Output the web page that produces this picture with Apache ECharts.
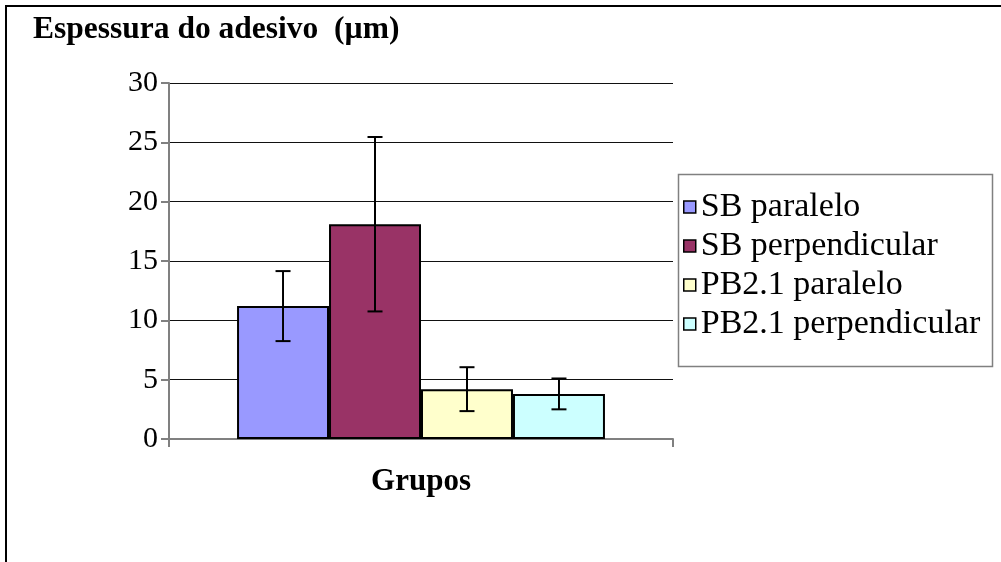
<!DOCTYPE html>
<html><head><meta charset="utf-8">
<script src="https://cdn.jsdelivr.net/npm/echarts@6/dist/echarts.min.js"></script>
<style>html,body{margin:0;padding:0;background:#fff}#c{width:1001px;height:562px}</style>
</head><body><div id="c"></div>
<script>
var categories = ['Grupos'];
var seriesNames = ['SB paralelo', 'SB perpendicular', 'PB2.1 paralelo', 'PB2.1 perpendicular'];
var sbParalelo = [11.2];
var sbPerpendicular = [18.1];
var pbParalelo = [4.2];
var pbPerpendicular = [3.8];
var errSbParalelo = [2.95];
var errSbPerpendicular = [7.35];
var errPbParalelo = [1.85];
var errPbPerpendicular = [1.3];
var yTicks = [0, 5, 10, 15, 20, 25, 30];
var colors = ['#9999FF', '#993366', '#FFFFCC', '#CCFFFF'];

var means = [sbParalelo, sbPerpendicular, pbParalelo, pbPerpendicular];
var errs = [errSbParalelo, errSbPerpendicular, errPbParalelo, errPbPerpendicular];
var catGap = 0.27;
var FONT = '"Liberation Serif","Times New Roman",serif';

var series = [];
seriesNames.forEach(function (n, i) {
  series.push({
    name: n, type: 'bar', data: means[i], barGap: '0%', barCategoryGap: (catGap * 100) + '%',
    itemStyle: { color: colors[i], borderColor: '#000', borderWidth: 2 },
    emphasis: { disabled: true }, animation: false
  });
});
seriesNames.forEach(function (n, i) {
  var d = means[i].map(function (m, k) { return [k, m - errs[i][k], m + errs[i][k]]; });
  series.push({
    type: 'custom', data: d, z: 10, animation: false, silent: true,
    encode: { x: 0, y: [1, 2] },
    renderItem: function (params, api) {
      var lo = api.coord([api.value(0), api.value(1)]);
      var hi = api.coord([api.value(0), api.value(2)]);
      var cw = api.size([1, 0])[0];
      var bw = cw * (1 - catGap) / 4;
      var cx = lo[0] + (i - 1.5) * bw;
      var cap = 7.5;
      var st = { stroke: '#000', lineWidth: 2 };
      return { type: 'group', children: [
        { type: 'line', shape: { x1: cx, y1: lo[1], x2: cx, y2: hi[1] }, style: st },
        { type: 'line', shape: { x1: cx - cap, y1: lo[1], x2: cx + cap, y2: lo[1] }, style: st },
        { type: 'line', shape: { x1: cx - cap, y1: hi[1], x2: cx + cap, y2: hi[1] }, style: st }
      ] };
    }
  });
});

var chart = echarts.init(document.getElementById('c'), null, { renderer: 'canvas' });
chart.setOption({
  backgroundColor: '#fff',
  animation: false,
  title: { text: 'Espessura do adesivo  (µm)', left: 28, top: 9,
    textStyle: { fontFamily: FONT, fontWeight: 'bold', fontSize: 31.5, color: '#000' } },
  grid: { left: 169, right: 328, top: 83, bottom: 123 },
  legend: {
    orient: 'vertical', left: 683, top: 190, padding: 0, itemWidth: 12, itemHeight: 12, itemGap: 5,
    icon: 'rect', data: seriesNames, selectedMode: false,
    itemStyle: { borderWidth: 1.5, borderColor: '#000' },
    textStyle: { fontFamily: FONT, fontSize: 34, color: '#000', lineHeight: 34 }
  },
  xAxis: {
    type: 'category', data: categories,
    name: 'Grupos', nameLocation: 'middle', nameGap: 27,
    nameTextStyle: { fontFamily: FONT, fontWeight: 'bold', fontSize: 31, color: '#000', lineHeight: 31 },
    axisLine: { lineStyle: { color: '#808080', width: 2 } },
    axisTick: { show: true, length: 8, lineStyle: { color: '#808080', width: 2 } },
    axisLabel: { show: false }
  },
  yAxis: {
    type: 'value', min: yTicks[0], max: yTicks[yTicks.length - 1], interval: 5,
    axisLine: { show: true, lineStyle: { color: '#808080', width: 2 } },
    axisTick: { show: true, length: 8, lineStyle: { color: '#808080', width: 2 } },
    axisLabel: { fontFamily: FONT, fontSize: 30, color: '#000', margin: 11 },
    splitLine: { lineStyle: { color: '#111', width: 1 } }
  },
  graphic: [
    { type: 'rect', shape: { x: 6, y: 6, width: 1100, height: 700 }, style: { fill: 'none', stroke: '#000', lineWidth: 2 }, silent: true },
    { type: 'rect', shape: { x: 678.5, y: 174.5, width: 314, height: 192 }, style: { fill: 'none', stroke: '#808080', lineWidth: 1.5 }, silent: true, z: -1 }
  ],
  series: series
});
</script></body></html>
